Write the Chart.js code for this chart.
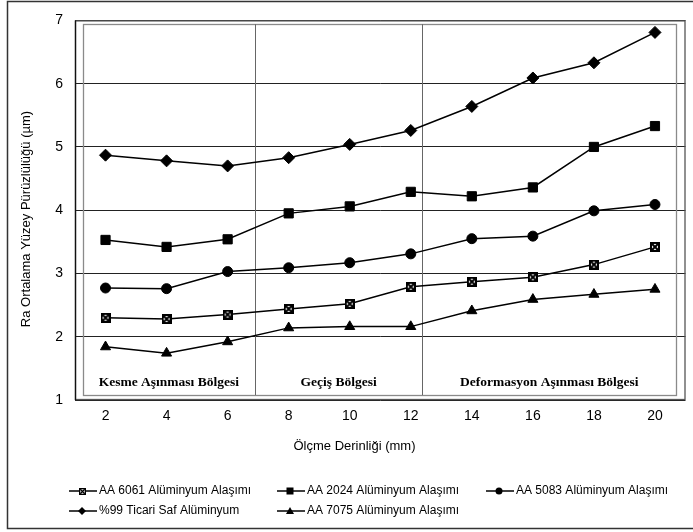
<!DOCTYPE html>
<html>
<head>
<meta charset="utf-8">
<script src="https://cdn.jsdelivr.net/npm/chart.js@4/dist/chart.umd.min.js"></script>
<style>
  html, body { margin: 0; padding: 0; background: #fff; }
  #wrap { width: 693px; height: 532px; position: relative; }
</style>
</head>
<body>
<div id="wrap"><canvas id="c" width="693" height="532"></canvas></div>
<script>
// Measurement depths (mm) and mean Ra roughness (µm) per material
const depths = ['2', '4', '6', '8', '10', '12', '14', '16', '18', '20'];
const aa6061 = [2.30, 2.28, 2.35, 2.44, 2.52, 2.79, 2.87, 2.94, 3.14, 3.42];
const aa2024 = [3.53, 3.42, 3.54, 3.95, 4.06, 4.29, 4.22, 4.36, 5.00, 5.33];
const aa5083 = [2.77, 2.76, 3.03, 3.09, 3.17, 3.31, 3.55, 3.59, 3.99, 4.09];
const saf99  = [4.87, 4.78, 4.70, 4.83, 5.04, 5.26, 5.64, 6.09, 6.33, 6.81];
const aa7075 = [1.84, 1.74, 1.92, 2.14, 2.16, 2.16, 2.41, 2.59, 2.67, 2.75];
const yTicks = [1, 2, 3, 4, 5, 6, 7];

// Wear zones along the depth axis (mm)
const zoneNames = ['Kesme Aşınması Bölgesi', 'Geçiş Bölgesi', 'Deformasyon Aşınması Bölgesi'];
const zoneEdges = [1.26, 6.89, 12.38, 20.7];

const seriesNames = {
  aa6061: 'AA 6061 Alüminyum Alaşımı',
  aa2024: 'AA 2024 Alüminyum Alaşımı',
  aa5083: 'AA 5083 Alüminyum Alaşımı',
  saf99: '%99 Ticari Saf Alüminyum',
  aa7075: 'AA 7075 Alüminyum Alaşımı'
};

// Square with a cross, used as a point style
function crossedSquare(size, lw) {
  const c = document.createElement('canvas');
  c.width = size; c.height = size;
  const g = c.getContext('2d');
  g.fillStyle = '#fff';
  g.fillRect(0, 0, size, size);
  g.strokeStyle = '#000';
  g.lineWidth = lw;
  g.strokeRect(lw / 2, lw / 2, size - lw, size - lw);
  g.beginPath();
  g.moveTo(lw, lw); g.lineTo(size - lw, size - lw);
  g.moveTo(size - lw, lw); g.lineTo(lw, size - lw);
  g.stroke();
  return c;
}
const xSquare = crossedSquare(10, 2);
const xSquareSmall = crossedSquare(7, 1.3);

function series(label, data, style, radius) {
  return {
    label, data,
    borderColor: '#000',
    backgroundColor: '#000',
    borderWidth: 1.5,
    pointStyle: style,
    pointRadius: radius,
    pointHoverRadius: radius,
    pointBorderWidth: 1,
    pointBorderColor: '#000',
    pointBackgroundColor: '#000',
    tension: 0,
    fill: false
  };
}

const datasets = [
  series(seriesNames.saf99, saf99, 'rectRot', 6),
  series(seriesNames.aa2024, aa2024, 'rect', 6.5),
  series(seriesNames.aa5083, aa5083, 'circle', 5),
  series(seriesNames.aa6061, aa6061, xSquare, 5),
  series(seriesNames.aa7075, aa7075, 'triangle', 5.8)
];

function legendMarker(ctx, kind, x, y) {
  ctx.save();
  ctx.fillStyle = '#000';
  ctx.beginPath();
  if (kind === 'xsq') {
    ctx.drawImage(xSquareSmall, Math.round(x - 3.5), Math.round(y - 3.5));
  } else if (kind === 'rect') {
    ctx.fillRect(x - 3.5, y - 3.5, 7, 7);
  } else if (kind === 'circle') {
    ctx.arc(x, y, 3.5, 0, Math.PI * 2); ctx.fill();
  } else if (kind === 'diamond') {
    ctx.moveTo(x, y - 4); ctx.lineTo(x + 4, y); ctx.lineTo(x, y + 4); ctx.lineTo(x - 4, y); ctx.closePath(); ctx.fill();
  } else if (kind === 'tri') {
    ctx.moveTo(x, y - 4); ctx.lineTo(x + 4, y + 3); ctx.lineTo(x - 4, y + 3); ctx.closePath(); ctx.fill();
  }
  ctx.restore();
}

const decor = {
  id: 'decor',
  beforeDatasetsDraw(chart) {
    const { ctx, chartArea: a, scales: { x, y } } = chart;
    const px = mm => x.getPixelForValue((mm - 2) / 2);
    ctx.save();
    // outer plot box
    ctx.strokeStyle = '#555';
    ctx.lineWidth = 1.3;
    ctx.strokeRect(a.left + 0.5, a.top + 0.5, a.right - a.left - 1, a.bottom - a.top - 1);
    ctx.strokeStyle = '#111';
    ctx.beginPath(); ctx.moveTo(a.left + 0.5, a.top); ctx.lineTo(a.left + 0.5, a.bottom); ctx.stroke();

    // zone box and dividers
    const zl = px(zoneEdges[0]), zr = px(zoneEdges[3]);
    const zt = y.getPixelForValue(6.94), zb = y.getPixelForValue(1.078);
    ctx.strokeStyle = '#8a8a8a';
    ctx.lineWidth = 1.3;
    ctx.strokeRect(Math.round(zl) + 0.5, Math.round(zt) + 0.5, Math.round(zr - zl), Math.round(zb - zt));
    ctx.strokeStyle = '#666';
    ctx.lineWidth = 1;
    for (let i = 1; i < zoneEdges.length - 1; i++) {
      const xx = Math.round(px(zoneEdges[i])) + 0.5;
      ctx.beginPath(); ctx.moveTo(xx, zt); ctx.lineTo(xx, zb); ctx.stroke();
    }
    // zone labels
    ctx.fillStyle = '#000';
    ctx.font = 'bold 13.5px "Liberation Serif", "Times New Roman", serif';
    ctx.textAlign = 'center';
    ctx.textBaseline = 'middle';
    for (let i = 0; i < zoneNames.length; i++) {
      const cx = (px(zoneEdges[i]) + px(zoneEdges[i + 1])) / 2;
      ctx.fillText(zoneNames[i], cx, y.getPixelForValue(1.28));
    }
    ctx.restore();
  },
  afterDraw(chart) {
    const { ctx } = chart;
    ctx.save();
    ctx.fillStyle = '#000';
    ctx.textBaseline = 'middle';
    // axis titles
    ctx.font = '13px "Liberation Sans", Arial, sans-serif';
    ctx.textAlign = 'center';
    ctx.fillText('Ölçme Derinliği (mm)', 354.5, 446);
    ctx.save();
    ctx.translate(26, 219);
    ctx.rotate(-Math.PI / 2);
    ctx.fillText('Ra Ortalama Yüzey Pürüzlülüğü (µm)', 0, 0);
    ctx.restore();

    // legend
    const items = [
      [seriesNames.aa6061, 'xsq', 69, 491],
      [seriesNames.aa2024, 'rect', 277, 491],
      [seriesNames.aa5083, 'circle', 486, 491],
      [seriesNames.saf99, 'diamond', 69, 511],
      [seriesNames.aa7075, 'tri', 277, 511]
    ];
    ctx.font = '12px "Liberation Sans", Arial, sans-serif';
    ctx.textAlign = 'left';
    for (const [label, kind, lx, ly] of items) {
      ctx.strokeStyle = '#000';
      ctx.lineWidth = 1.5;
      ctx.beginPath(); ctx.moveTo(lx, ly); ctx.lineTo(lx + 28, ly); ctx.stroke();
      legendMarker(ctx, kind, lx + 13, ly);
      ctx.fillText(label, lx + 30, ly);
    }

    // picture frame
    ctx.strokeStyle = '#333';
    ctx.lineWidth = 1.5;
    ctx.strokeRect(7.5, 1.5, 700, 527);
    ctx.restore();
  }
};

new Chart(document.getElementById('c'), {
  type: 'line',
  data: { labels: depths, datasets },
  options: {
    responsive: false,
    animation: false,
    devicePixelRatio: 1,
    layout: { padding: { left: 0, right: 3, top: 13, bottom: 0 } },
    plugins: { legend: { display: false }, tooltip: { enabled: false } },
    scales: {
      x: {
        type: 'category',
        offset: true,
        grid: { display: false, drawTicks: false },
        border: { display: false },
        ticks: {
          color: '#000',
          padding: 8,
          font: { family: '"Liberation Sans", Arial, sans-serif', size: 14 },
          maxRotation: 0,
          autoSkip: false
        },
        afterFit(s) { s.height = 132; }
      },
      y: {
        min: yTicks[0],
        max: yTicks[yTicks.length - 1],
        afterBuildTicks(s) { s.ticks = yTicks.map(v => ({ value: v })); },
        grid: { color: '#222', lineWidth: 1, drawTicks: false },
        border: { display: false },
        ticks: {
          color: '#000',
          padding: 12,
          font: { family: '"Liberation Sans", Arial, sans-serif', size: 14 }
        },
        afterFit(s) { s.width = 75; }
      }
    }
  },
  plugins: [decor]
});
</script>
</body>
</html>
